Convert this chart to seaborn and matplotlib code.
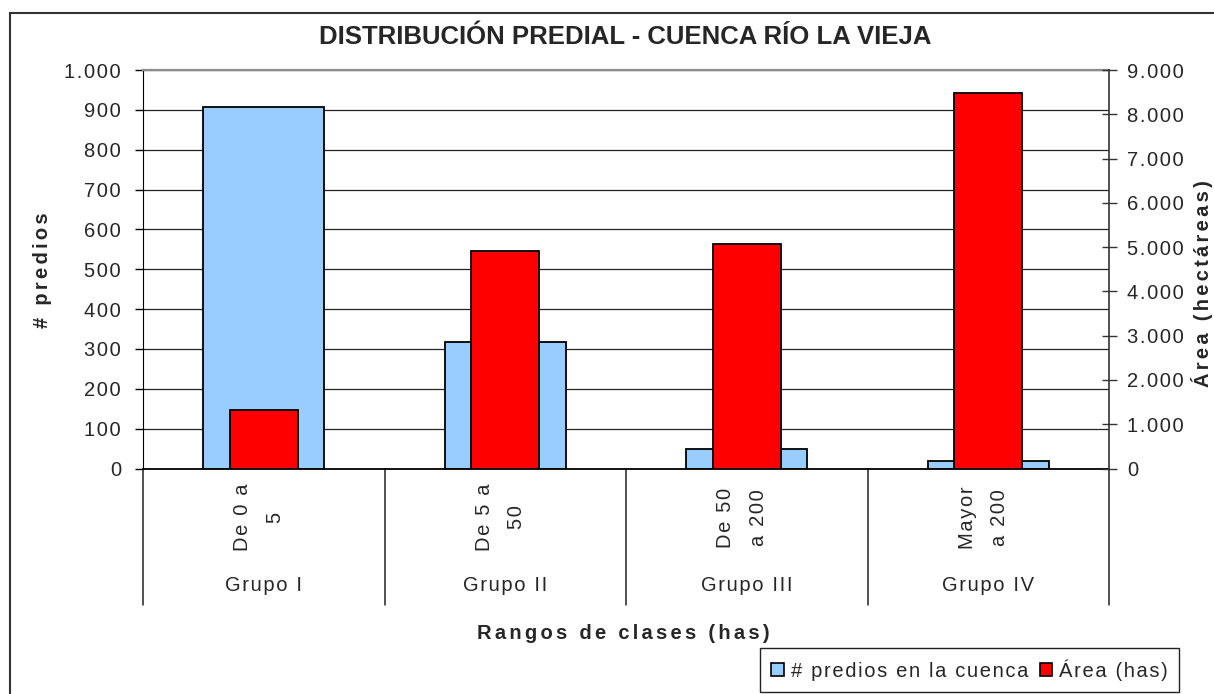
import numpy as np
import pandas as pd
import seaborn as sns
import matplotlib.pyplot as plt
from matplotlib.patches import Patch, Rectangle
from matplotlib.ticker import MultipleLocator, FuncFormatter

# Data
grupos = ['Grupo I', 'Grupo II', 'Grupo III', 'Grupo IV']
rangos = ['De 0 a\n5', 'De 5 a\n50', 'De 50\na 200', 'Mayor\na 200']
predios = [908, 317, 50, 20]
area_has = [1320, 4920, 5060, 8470]

df = pd.DataFrame({'grupo': grupos, 'rango': rangos, 'predios': predios, 'area': area_has})

sns.set_style('white')
plt.rcParams['font.family'] = ['Liberation Sans', 'DejaVu Sans']


def spaced(s, n=1):
    # Excel-like expanded character spacing
    return ('\u200a' * n).join(s)


W, H = 1214, 694
fig = plt.figure(figsize=(W / 100, H / 100), dpi=100)
ax = fig.add_axes([143 / W, 1 - 468.5 / H, (1109 - 143) / W, 398.5 / H])
ax2 = ax.twinx()

sns.barplot(data=df, x='grupo', y='predios', ax=ax, color='#99CCFF', width=0.5,
            edgecolor='black', linewidth=1.3, errorbar=None, saturation=1)
sns.barplot(data=df, x='grupo', y='area', ax=ax2, color='#FF0000', width=0.28,
            edgecolor='black', linewidth=1.3, errorbar=None, saturation=1)

ax.set_xlim(-0.5, 3.5)
ax.set_ylim(0, 1000)
ax2.set_ylim(0, 9000)
for a in (ax, ax2):
    a.set_xlabel('')
    a.set_ylabel('')
    a.tick_params(axis='x', bottom=False, labelbottom=False)

fmt = FuncFormatter(lambda v, p: spaced(f'{v:,.0f}'.replace(',', '.')))
ax.yaxis.set_major_locator(MultipleLocator(100))
ax.yaxis.set_major_formatter(fmt)
ax2.yaxis.set_major_locator(MultipleLocator(1000))
ax2.yaxis.set_major_formatter(fmt)

ax.grid(axis='y', color='#222222', lw=0.9)
ax.set_axisbelow(True)

ax.tick_params(axis='y', direction='out', length=5.8, width=1, color='black',
               labelsize=14.5, pad=10, left=True)
ax2.tick_params(axis='y', direction='inout', length=10.8, width=1, color='#333333',
                labelsize=14.5, pad=7.8, right=True)

ax.spines['top'].set_color('#8c8c8c')
ax.spines['top'].set_linewidth(1.6)
ax.spines['right'].set_visible(False)
ax.spines['left'].set_color('black')
ax.spines['bottom'].set_color('black')
ax.spines['bottom'].set_linewidth(1.3)
for s in ('top', 'left', 'bottom'):
    ax2.spines[s].set_visible(False)
ax2.spines['right'].set_color('#333333')
ax2.spines['right'].set_linewidth(1.2)

# multi-level category axis
tr = ax.get_xaxis_transform()
for xv in np.arange(-0.5, 4, 1.0):
    ax.plot([xv, xv], [0, -0.343], transform=tr, color='#222222', lw=1.1, clip_on=False)
for i, (r, g) in enumerate(zip(rangos, grupos)):
    lab = '\n'.join(spaced(line) for line in r.split('\n'))
    ax.text(i - 0.02, -0.123, lab, transform=tr, rotation=90, ha='center', va='center',
            multialignment='center', linespacing=1.9, fontsize=14.5)
    ax.text(i, -0.3067, spaced(g), transform=tr, ha='center', va='baseline', fontsize=14.5)

fig.text(625 / W, 1 - 37 / H, 'DISTRIBUCIÓN PREDIAL - CUENCA RÍO LA VIEJA',
         ha='center', va='center', fontsize=18.5, fontweight='bold')
fig.text(623 / W, 1 - 638.7 / H, spaced('Rangos de clases (has)', 2), ha='center',
         va='baseline', fontsize=14.5, fontweight='bold')
fig.text(42 / W, 1 - 270 / H, spaced('# predios', 2), rotation=90, ha='center',
         va='center', fontsize=14.5, fontweight='bold')
fig.text(1213 / W, 1 - 284 / H, spaced('Área (hectáreas)', 2), rotation=90, ha='right',
         va='center', fontsize=14.5, fontweight='bold')

handles = [Patch(facecolor='#99CCFF', edgecolor='black', lw=1.2),
           Patch(facecolor='#FF0000', edgecolor='black', lw=1.2)]
leg = fig.legend(handles, [spaced('# predios en la cuenca'), spaced('Área (has)')], ncol=2,
                 loc='lower right', bbox_to_anchor=(1179 / W, 2 / H),
                 frameon=True, fancybox=False, framealpha=1, edgecolor='#222222',
                 fontsize=14.5, handlelength=0.6, handleheight=0.6, handletextpad=0.35,
                 columnspacing=0.6, borderpad=0.55, borderaxespad=0)
leg.get_frame().set_linewidth(1)

# outer chart frame (cut by the image edge at right and bottom)
fig.patches.append(Rectangle((10 / W, -0.1), 1.2, 1 - 13 / H + 0.1, transform=fig.transFigure,
                             fill=False, edgecolor='#333333', lw=1.5, zorder=0))

fig.savefig('out.png', dpi=100)
